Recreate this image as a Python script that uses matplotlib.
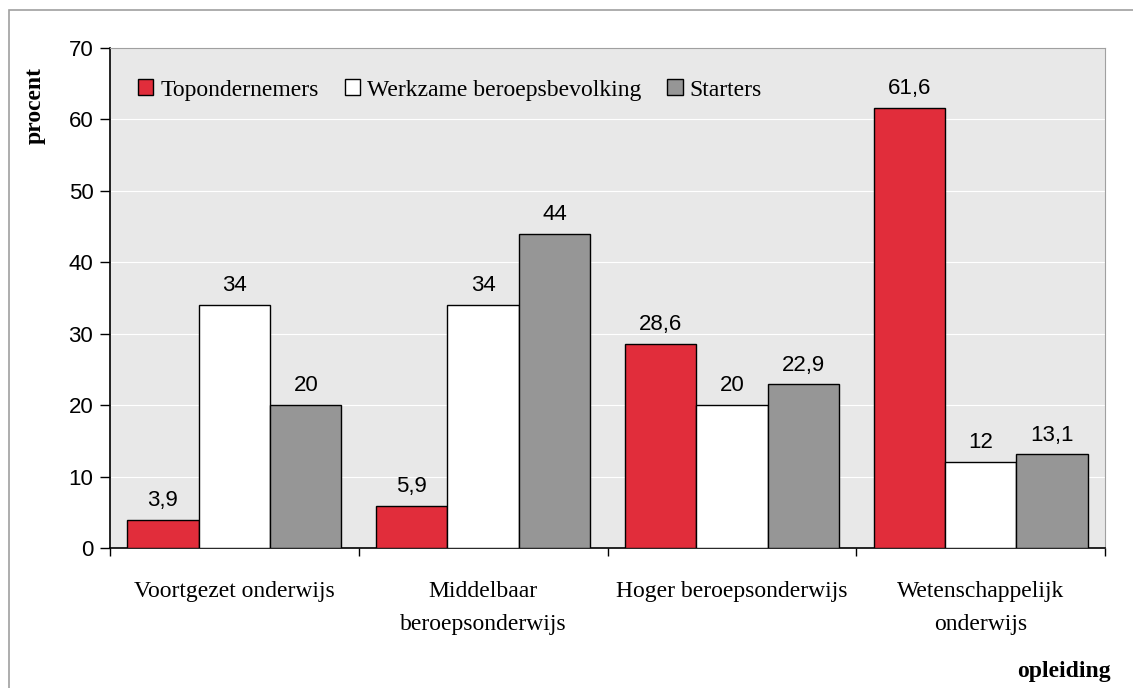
import numpy as np
import matplotlib.pyplot as plt
from matplotlib.patches import Rectangle

categories = ["Voortgezet onderwijs", "Middelbaar\nberoepsonderwijs",
              "Hoger beroepsonderwijs", "Wetenschappelijk\nonderwijs"]
series = ["Topondernemers", "Werkzame beroepsbevolking", "Starters"]
topondernemers = [3.9, 5.9, 28.6, 61.6]
werkzame = [34, 34, 20, 12]
starters = [20, 44, 22.9, 13.1]
colors = ["#e12d3b", "#ffffff", "#969696"]

serif = "Liberation Serif"
sans = "Liberation Sans"

fig = plt.figure(figsize=(11.33, 6.88), dpi=100)
W, H = 1133, 688
ax = fig.add_axes([110 / W, 1 - 548 / H, (1105 - 110) / W, (548 - 48) / H])
ax.set_facecolor("#e8e8e8")

# outer frame
fig.patches.append(Rectangle((9 / W, -0.01), 1.01, 1 - 10 / H + 0.01, transform=fig.transFigure,
                             fill=False, edgecolor="#a0a0a0", lw=1.2))

x = np.arange(len(categories))
bw = 0.287
for i, (vals, c, name) in enumerate(zip([topondernemers, werkzame, starters], colors, series)):
    pos = x + (i - 1) * bw
    ax.bar(pos, vals, bw, color=c, edgecolor="black", lw=1.0, label=name, zorder=3)
    for p, v in zip(pos, vals):
        ax.text(p, v + 2.7, f"{v:g}".replace(".", ","), ha="center", va="center",
                fontsize=16, family=sans, zorder=4)

ax.set_xlim(-0.5, len(categories) - 0.5)
ax.set_ylim(0, 70)
ax.set_yticks(range(0, 71, 10))
ax.yaxis.grid(True, color="white", lw=0.8, zorder=0)
ax.set_xticks(np.arange(len(categories) + 1) - 0.5)
ax.set_xticklabels([])
ax.set_xticks(x, minor=True)
ax.set_xticklabels(categories, minor=True, family=serif, fontsize=17, linespacing=1.75)
ax.tick_params(axis="x", which="minor", length=0, pad=24)
ax.tick_params(axis="x", which="major", length=6, direction="out", width=1)
ax.tick_params(axis="y", length=7, width=1, labelsize=16, pad=5)
for lab in ax.get_yticklabels():
    lab.set_family(sans)
for s in ["top", "right"]:
    ax.spines[s].set_color("#a0a0a0")
for s in ["left", "bottom"]:
    ax.spines[s].set_color("black")
    ax.spines[s].set_linewidth(1.2)
ax.set_axisbelow(True)

leg = ax.legend(loc="upper left", bbox_to_anchor=(0.028, 0.937), ncol=3, frameon=False,
                prop={"family": serif, "size": 17}, handlelength=0.65, handleheight=0.65,
                handletextpad=0.3, columnspacing=1.1, borderaxespad=0, borderpad=0)

fig.text(35 / W, 1 - 105 / H, "procent", rotation=90, ha="center", va="center",
         family=serif, fontsize=17, fontweight="bold")
fig.text(1111 / W, 1 - 671 / H, "opleiding", ha="right", va="center",
         family=serif, fontsize=17, fontweight="bold")

fig.savefig("out.png", dpi=100)
